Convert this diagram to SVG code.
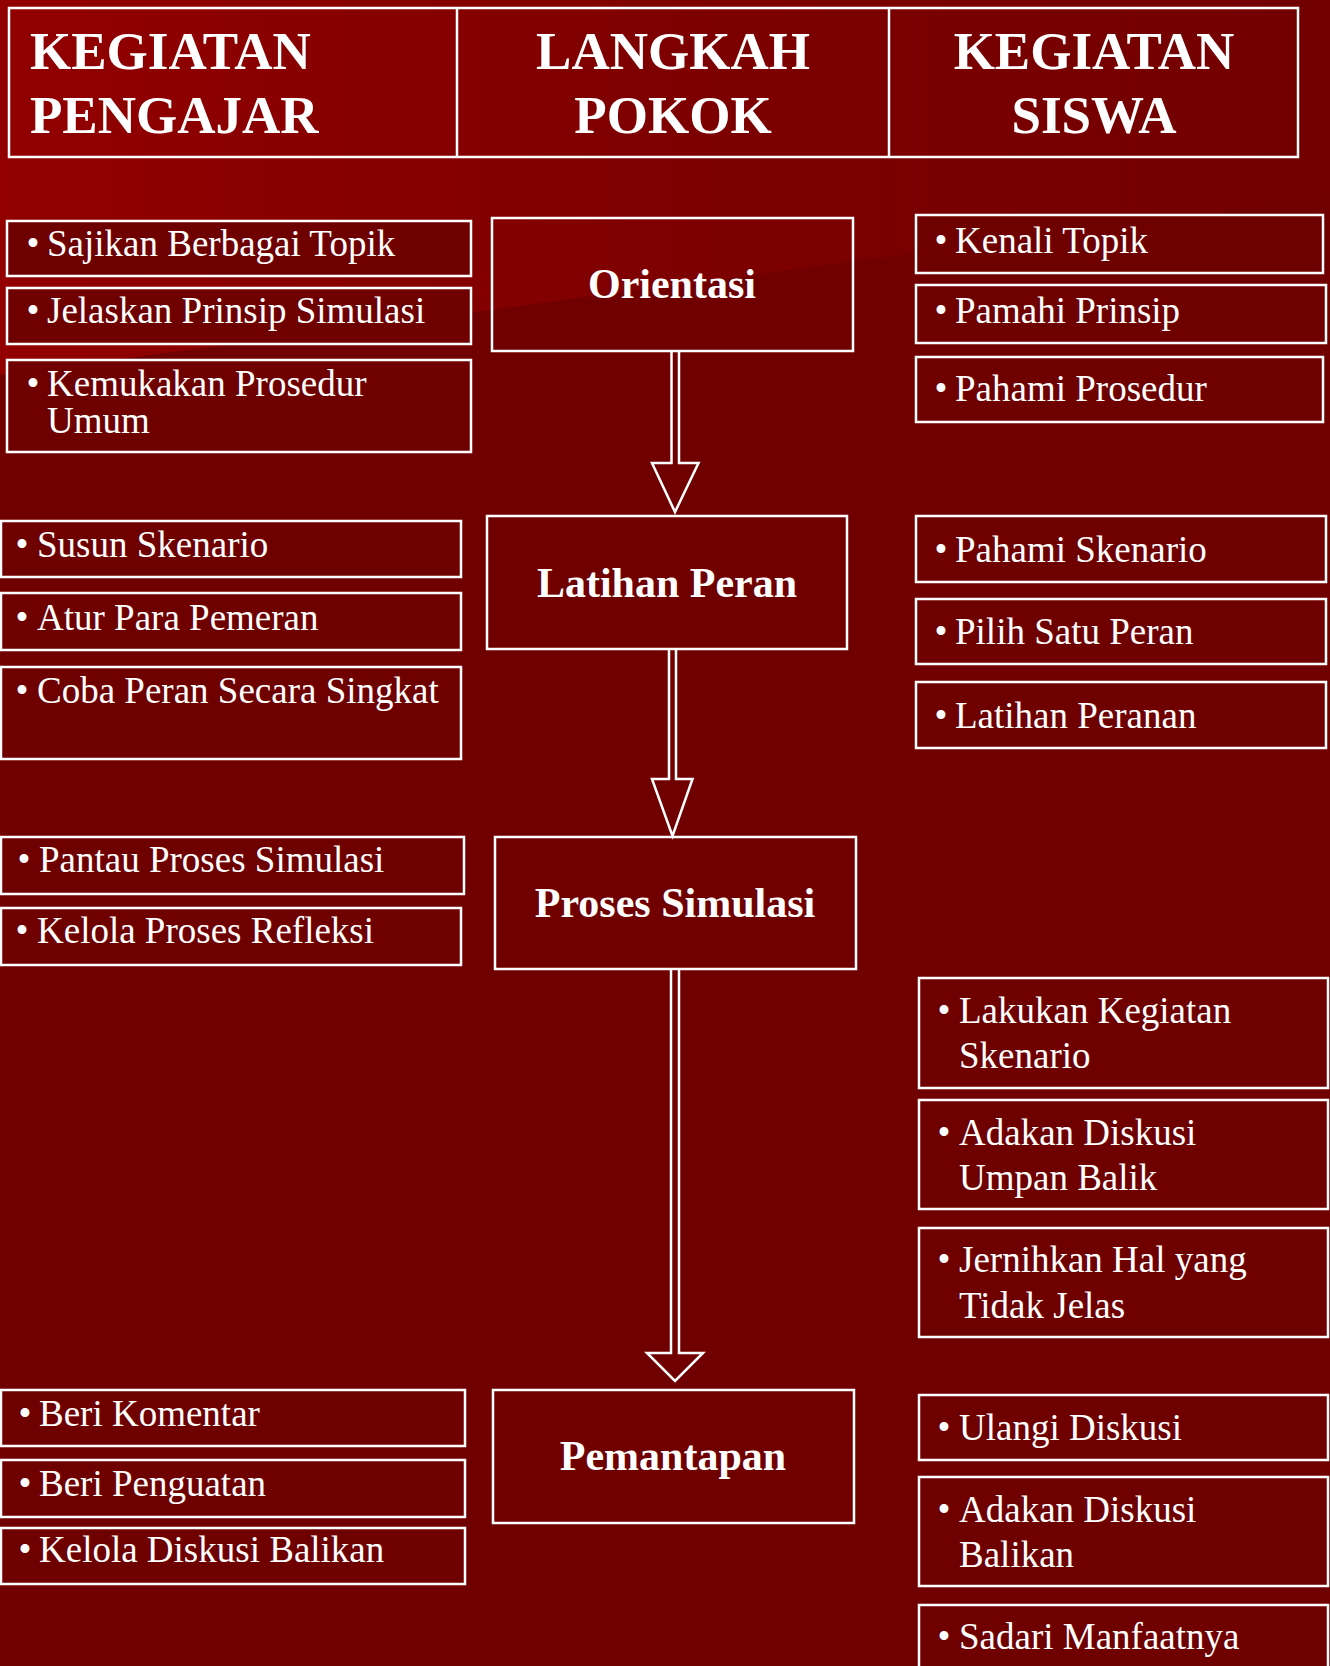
<svg xmlns="http://www.w3.org/2000/svg" width="1330" height="1666" viewBox="0 0 1330 1666">
  <defs>
    <linearGradient id="sheen" gradientUnits="userSpaceOnUse" x1="0" y1="150" x2="1330" y2="150">
      <stop offset="0" stop-color="#920000"/>
      <stop offset="0.5" stop-color="#7e0000"/>
      <stop offset="1" stop-color="#720000"/>
    </linearGradient>
    <style>
      .box { fill: #6e0000; stroke: #ffffff; stroke-width: 2.5; }
      .step { fill: none; stroke: #ffffff; stroke-width: 2.5; }
      .head { fill: none; stroke: #ffffff; stroke-width: 2.5; }
      .arrow { fill: none; stroke: #ffffff; stroke-width: 2.5; stroke-linejoin: miter; }
      .hd { font-family: "Liberation Serif", "Times New Roman", serif; font-weight: bold; font-size: 53px; fill: #ffffff; }
      .st { font-family: "Liberation Serif", "Times New Roman", serif; font-weight: bold; font-size: 42px; fill: #ffffff; text-anchor: middle; }
      .tx { font-family: "Liberation Serif", "Times New Roman", serif; font-size: 37px; fill: #ffffff; }
      .bl { font-family: "Liberation Serif", "Times New Roman", serif; font-size: 37px; fill: #ffffff; text-anchor: middle; }
    </style>
  </defs>

  <!-- background with lighter upper-left band -->
  <rect x="0" y="0" width="1330" height="1666" fill="#700000"/>
  <polygon points="0,0 1330,0 1330,198 0,375" fill="url(#sheen)"/>

  <!-- column headings -->
  <g id="header">
    <rect class="head" x="9" y="8" width="1289" height="149"/>
    <line class="head" x1="457" y1="8" x2="457" y2="157"/>
    <line class="head" x1="889" y1="8" x2="889" y2="157"/>
    <text class="hd" x="30" y="69">KEGIATAN</text>
    <text class="hd" x="30" y="133">PENGAJAR</text>
    <text class="hd" x="673" y="69" text-anchor="middle">LANGKAH</text>
    <text class="hd" x="673" y="133" text-anchor="middle">POKOK</text>
    <text class="hd" x="1094" y="69" text-anchor="middle">KEGIATAN</text>
    <text class="hd" x="1094" y="133" text-anchor="middle">SISWA</text>
  </g>

  <!-- connectors: hollow block arrows between the main steps -->
  <g id="connectors">
    <path class="arrow" d="M671.5,351 L671.5,463 L652,463 L675,512 L698.5,463 L679,463 L679,351"/>
    <path class="arrow" d="M669,649 L669,779 L652,779 L672.5,836 L692.5,779 L676,779 L676,649"/>
    <path class="arrow" d="M671,969 L671,1353 L647,1353 L675,1381 L703,1353 L679,1353 L679,969"/>
  </g>

  <!-- main steps -->
  <g id="step-orientasi">
    <rect class="step" x="492" y="218" width="361" height="133"/>
    <text class="st" x="672" y="298">Orientasi</text>
  </g>
  <g id="step-latihan-peran">
    <rect class="step" x="487" y="516" width="360" height="133"/>
    <text class="st" x="667" y="597">Latihan Peran</text>
  </g>
  <g id="step-proses-simulasi">
    <rect class="step" x="495" y="837" width="361" height="132"/>
    <text class="st" x="675" y="917">Proses Simulasi</text>
  </g>
  <g id="step-pemantapan">
    <rect class="step" x="493" y="1390" width="361" height="133"/>
    <text class="st" x="673" y="1470">Pemantapan</text>
  </g>

  <!-- teacher activities -->
  <g id="t-sajikan">
    <rect class="box" x="7" y="221" width="464" height="55"/>
    <text class="bl" x="33" y="256">•</text>
    <text class="tx" x="47" y="256">Sajikan Berbagai Topik</text>
  </g>
  <g id="t-jelaskan">
    <rect class="box" x="7" y="288" width="464" height="56"/>
    <text class="bl" x="33" y="323">•</text>
    <text class="tx" x="47" y="323">Jelaskan Prinsip Simulasi</text>
  </g>
  <g id="t-kemukakan">
    <rect class="box" x="7" y="360" width="464" height="92"/>
    <text class="bl" x="33" y="396">•</text>
    <text class="tx" x="47" y="396">Kemukakan Prosedur</text>
    <text class="tx" x="47" y="433">Umum</text>
  </g>
  <g id="t-susun">
    <rect class="box" x="1" y="521" width="460" height="56"/>
    <text class="bl" x="22" y="557">•</text>
    <text class="tx" x="37" y="557">Susun Skenario</text>
  </g>
  <g id="t-atur">
    <rect class="box" x="1" y="593" width="460" height="57"/>
    <text class="bl" x="22" y="630">•</text>
    <text class="tx" x="37" y="630">Atur Para Pemeran</text>
  </g>
  <g id="t-coba">
    <rect class="box" x="1" y="667" width="460" height="92"/>
    <text class="bl" x="22" y="703">•</text>
    <text class="tx" x="37" y="703">Coba Peran Secara Singkat</text>
  </g>
  <g id="t-pantau">
    <rect class="box" x="1" y="837" width="463" height="57"/>
    <text class="bl" x="24" y="872">•</text>
    <text class="tx" x="39" y="872">Pantau Proses Simulasi</text>
  </g>
  <g id="t-kelola-refleksi">
    <rect class="box" x="1" y="908" width="460" height="57"/>
    <text class="bl" x="22" y="943">•</text>
    <text class="tx" x="37" y="943">Kelola Proses Refleksi</text>
  </g>
  <g id="t-komentar">
    <rect class="box" x="1" y="1390" width="464" height="56"/>
    <text class="bl" x="25" y="1426">•</text>
    <text class="tx" x="39" y="1426">Beri Komentar</text>
  </g>
  <g id="t-penguatan">
    <rect class="box" x="1" y="1460" width="464" height="57"/>
    <text class="bl" x="25" y="1496">•</text>
    <text class="tx" x="39" y="1496">Beri Penguatan</text>
  </g>
  <g id="t-kelola-diskusi">
    <rect class="box" x="1" y="1528" width="464" height="56"/>
    <text class="bl" x="25" y="1562">•</text>
    <text class="tx" x="39" y="1562">Kelola Diskusi Balikan</text>
  </g>

  <!-- student activities -->
  <g id="s-kenali">
    <rect class="box" x="916" y="215" width="407" height="58"/>
    <text class="bl" x="941" y="253">•</text>
    <text class="tx" x="955" y="253">Kenali Topik</text>
  </g>
  <g id="s-pamahi">
    <rect class="box" x="916" y="285" width="410" height="58"/>
    <text class="bl" x="941" y="323">•</text>
    <text class="tx" x="955" y="323">Pamahi Prinsip</text>
  </g>
  <g id="s-prosedur">
    <rect class="box" x="916" y="357" width="407" height="65"/>
    <text class="bl" x="941" y="401">•</text>
    <text class="tx" x="955" y="401">Pahami Prosedur</text>
  </g>
  <g id="s-skenario">
    <rect class="box" x="916" y="516" width="410" height="66"/>
    <text class="bl" x="941" y="562">•</text>
    <text class="tx" x="955" y="562">Pahami Skenario</text>
  </g>
  <g id="s-pilih">
    <rect class="box" x="916" y="599" width="410" height="65"/>
    <text class="bl" x="941" y="644">•</text>
    <text class="tx" x="955" y="644">Pilih Satu Peran</text>
  </g>
  <g id="s-latihan">
    <rect class="box" x="916" y="682" width="410" height="66"/>
    <text class="bl" x="941" y="728">•</text>
    <text class="tx" x="955" y="728">Latihan Peranan</text>
  </g>
  <g id="s-lakukan">
    <rect class="box" x="919" y="978" width="409" height="110"/>
    <text class="bl" x="944" y="1023">•</text>
    <text class="tx" x="959" y="1023">Lakukan Kegiatan</text>
    <text class="tx" x="959" y="1068">Skenario</text>
  </g>
  <g id="s-umpan-balik">
    <rect class="box" x="919" y="1100" width="409" height="109"/>
    <text class="bl" x="944" y="1145">•</text>
    <text class="tx" x="959" y="1145">Adakan Diskusi</text>
    <text class="tx" x="959" y="1190">Umpan Balik</text>
  </g>
  <g id="s-jernihkan">
    <rect class="box" x="919" y="1228" width="409" height="109"/>
    <text class="bl" x="944" y="1272">•</text>
    <text class="tx" x="959" y="1272">Jernihkan Hal yang</text>
    <text class="tx" x="959" y="1318">Tidak Jelas</text>
  </g>
  <g id="s-ulangi">
    <rect class="box" x="919" y="1395" width="409" height="65"/>
    <text class="bl" x="944" y="1440">•</text>
    <text class="tx" x="959" y="1440">Ulangi Diskusi</text>
  </g>
  <g id="s-balikan">
    <rect class="box" x="919" y="1477" width="409" height="109"/>
    <text class="bl" x="944" y="1522">•</text>
    <text class="tx" x="959" y="1522">Adakan Diskusi</text>
    <text class="tx" x="959" y="1567">Balikan</text>
  </g>
  <g id="s-sadari">
    <rect class="box" x="919" y="1605" width="409" height="90"/>
    <text class="bl" x="944" y="1649">•</text>
    <text class="tx" x="959" y="1649">Sadari Manfaatnya</text>
  </g>
</svg>
